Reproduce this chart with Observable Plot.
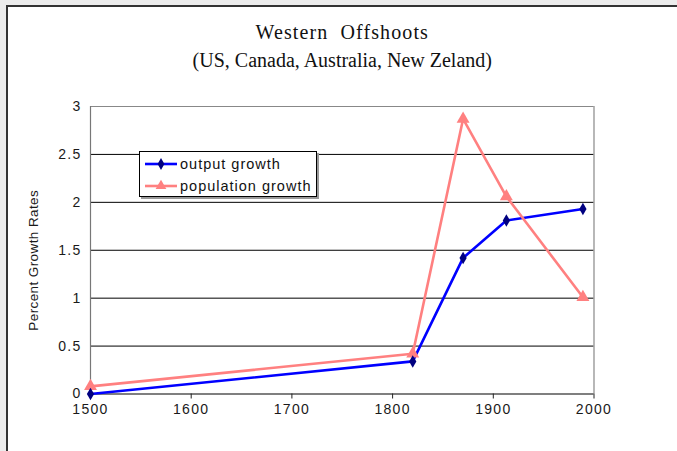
<!DOCTYPE html>
<html>
<head>
<meta charset="utf-8">
<script src="https://cdn.jsdelivr.net/npm/d3@7"></script>
<script src="https://cdn.jsdelivr.net/npm/@observablehq/plot@0.6"></script>
<style>
  html, body { margin: 0; padding: 0; background: #ececec; }
  #wrap { position: relative; width: 677px; height: 451px; overflow: hidden; background: #ececec; }
  #frame { position: absolute; left: 6px; top: 5px; right: -10px; bottom: -10px; background: #fff; border-left: 2px solid #333; border-top: 2px solid #333; }
  #chart { position: absolute; left: 0; top: 0; }
  #chart svg { background: transparent; }
  g[aria-label="x-axis tick label"] text, g[aria-label="y-axis tick label"] text { letter-spacing: 1.3px; }
  #legend { position: absolute; left: 139px; top: 151px; width: 176px; height: 44px; border: 1px solid #000; background: #fff; box-shadow: 2px 2px 0 #999; font-family: "Liberation Sans", Arial, sans-serif; font-size: 14.5px; letter-spacing: 1px; color: #111; }
  .row { position: absolute; left: 4px; height: 20px; display: flex; align-items: center; }
  .row svg { margin-right: 2px; }
</style>
</head>
<body>
<div id="wrap">
  <div id="frame"></div>
  <div id="chart"></div>
  <div id="legend"></div>
</div>
<script>
const title = "Western\u00a0\u00a0Offshoots";
const subtitle = "(US, Canada, Australia, New\u00a0Zeland)";
const yLabel = "Percent Growth Rates";
const years = [1500, 1820, 1870, 1913, 1989];
const outputGrowth = [0.0, 0.34, 1.42, 1.81, 1.93];
const populationGrowth = [0.08, 0.42, 2.87, 2.06, 1.01];
const seriesNames = ["output growth", "population growth"];
const xTicks = [1500, 1600, 1700, 1800, 1900, 2000];
const yTicks = [0, 0.5, 1, 1.5, 2, 2.5, 3];

const outData = years.map((y, i) => ({year: y, value: outputGrowth[i]}));
const popData = years.map((y, i) => ({year: y, value: populationGrowth[i]}));

const chart = Plot.plot({
  width: 677,
  height: 451,
  marginLeft: 90,
  marginRight: 83.5,
  marginTop: 106,
  marginBottom: 57.5,
  style: {fontFamily: "'Liberation Sans', Arial, sans-serif", fontSize: "14px", color: "#1a1a1a", background: "transparent"},
  x: {domain: [1500, 2000]},
  y: {domain: [0, 3]},
  marks: [
    Plot.ruleY(yTicks.filter(d => d > 0 && d < 3), {stroke: "#000", strokeWidth: 1}),
    Plot.ruleY([3], {stroke: "#888", strokeWidth: 1.2}),
    Plot.ruleX([2000], {stroke: "#888", strokeWidth: 1.2}),
    Plot.ruleX([1500], {stroke: "#777", strokeWidth: 1.2}),
    Plot.ruleY([0], {stroke: "#000", strokeWidth: 1.2}),
    Plot.axisX({ticks: xTicks, tickFormat: d => String(d), tickSize: 5, tickPadding: 5, label: null, stroke: "#222"}),
    Plot.axisY({ticks: yTicks, tickFormat: d => String(d), tickSize: 0, tickPadding: 9, label: null}),
    Plot.text([yLabel], {frameAnchor: "left", textAnchor: "middle", rotate: -90, dx: -57, dy: 10, text: d => d, fontSize: 13.5, fill: "#1a1a1a"}),
    Plot.line(outData, {x: "year", y: "value", stroke: "#0000ff", strokeWidth: 2.6}),
    Plot.line(popData, {x: "year", y: "value", stroke: "#ff8080", strokeWidth: 2.6}),
    Plot.dot(popData, {x: "year", y: "value", symbol: "triangle", r: 4.8, fill: "#ff8080", stroke: "none"}),
    Plot.dot(outData, {x: "year", y: "value", symbol: "diamond", r: 3.8, fill: "#000080", stroke: "none"}),
    Plot.text([title], {frameAnchor: "top", dy: -82, dx: 0, text: d => d, fontFamily: "'Liberation Serif', 'Times New Roman', serif", fontSize: 20, fill: "#111"}),
    Plot.text([subtitle], {frameAnchor: "top", dy: -54, dx: 0, text: d => d, fontFamily: "'Liberation Serif', 'Times New Roman', serif", fontSize: 20, fill: "#111"})
  ]
});
document.getElementById("chart").appendChild(chart);
chart.querySelectorAll("text").forEach(t => {
  if (t.textContent === title) t.setAttribute("letter-spacing", "1.1");
  if (t.textContent === yLabel) t.setAttribute("letter-spacing", "0.4");
});

// legend
const legend = document.getElementById("legend");
const styles = [
  {stroke: "#0000ff", fill: "#000080"},
  {stroke: "#ff8080", fill: "#ff8080"}
];
seriesNames.forEach((name, i) => {
  const row = document.createElement("div");
  row.className = "row";
  row.style.top = (i === 0 ? 2 : 24) + "px";
  const s = styles[i];
  const symPath = i === 0 ? d3.symbol(d3.symbolDiamond, 40)() : d3.symbol(d3.symbolTriangle, 50)();
  row.innerHTML = `<svg width="34" height="14"><line x1="1" x2="33" y1="7" y2="7" stroke="${s.stroke}" stroke-width="2.6"/><path transform="translate(17,7)" d="${symPath}" fill="${s.fill}"/></svg><span>${name}</span>`;
  legend.appendChild(row);
});
</script>
</body>
</html>
